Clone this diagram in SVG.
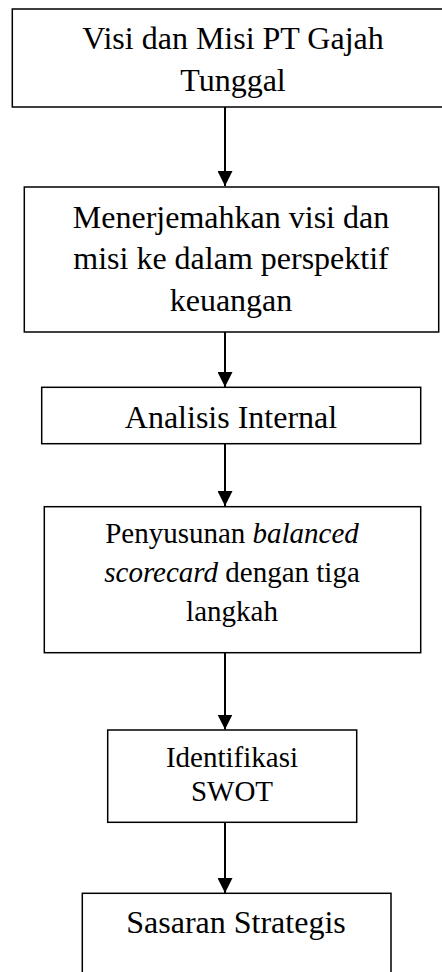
<svg xmlns="http://www.w3.org/2000/svg" width="442" height="972" viewBox="0 0 442 972">
<style>
.box{fill:#fff;stroke:#000;stroke-width:1.5}
text{fill:#000;text-anchor:middle}
.big{font-size:32px}
.sm{font-size:29px}
.conn line{stroke:#000;stroke-width:2}
</style>
<defs>
<marker id="ah" markerUnits="userSpaceOnUse" markerWidth="16" markerHeight="15" refX="15" refY="7.5" orient="auto">
<path d="M0,0 L15,7.5 L0,15 Z" fill="#000"/>
</marker>
</defs>
<rect width="442" height="972" fill="#fff"/>
<g font-family="Liberation Serif, Times New Roman, serif">
<g id="n1">
<rect class="box" x="12.3" y="9" width="440" height="98"/>
<text class="big" x="233" y="49">Visi dan Misi PT Gajah</text>
<text class="big" x="233" y="91">Tunggal</text>
</g>
<g id="n2">
<rect class="box" x="24.3" y="187" width="414.4" height="145"/>
<text class="big" x="231" y="228">Menerjemahkan visi dan</text>
<text class="big" x="231" y="269">misi ke dalam perspektif</text>
<text class="big" x="231" y="311">keuangan</text>
</g>
<g id="n3">
<rect class="box" x="41.7" y="387.3" width="379" height="56.4"/>
<text class="big" x="231" y="427.7">Analisis Internal</text>
</g>
<g id="n4">
<rect class="box" x="44.3" y="506.7" width="376.4" height="146"/>
<text class="sm" x="232" y="543.3">Penyusunan <tspan font-style="italic">balanced</tspan></text>
<text class="sm" x="232" y="581.7"><tspan font-style="italic">scorecard</tspan> dengan tiga</text>
<text class="sm" x="232" y="621">langkah</text>
</g>
<g id="n5">
<rect class="box" x="107.7" y="730" width="249" height="92.3"/>
<text class="sm" x="232" y="767.3">Identifikasi</text>
<text class="sm" x="232" y="800.7">SWOT</text>
</g>
<g id="n6">
<rect class="box" x="82.3" y="893.3" width="308.7" height="100"/>
<text class="big" x="236" y="932.7">Sasaran Strategis</text>
</g>
</g>
<g class="conn" id="connectors">
<line x1="225" y1="107" x2="225" y2="186" marker-end="url(#ah)"/>
<line x1="225" y1="332" x2="225" y2="387" marker-end="url(#ah)"/>
<line x1="225" y1="444" x2="225" y2="506" marker-end="url(#ah)"/>
<line x1="225" y1="652.7" x2="225" y2="729.5" marker-end="url(#ah)"/>
<line x1="225" y1="822.3" x2="225" y2="893" marker-end="url(#ah)"/>
</g>
</svg>
